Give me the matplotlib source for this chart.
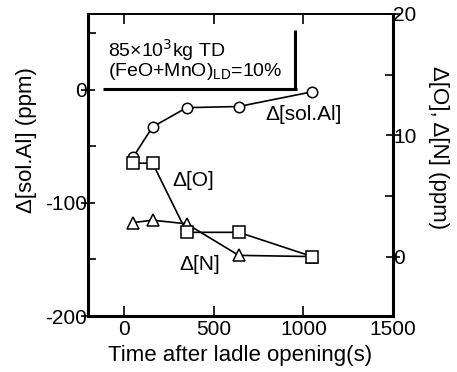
import matplotlib
matplotlib.use("Agg")
import matplotlib.pyplot as plt
from matplotlib.ticker import MultipleLocator

plt.rcParams['font.family'] = ['Liberation Sans', 'DejaVu Sans']
plt.rcParams['axes.unicode_minus'] = False

# Time after ladle opening (s)
time_s = [50, 160, 350, 640, 1050]
# Change in soluble Al (ppm), left axis
d_solal = [-60, -33, -16, -15, -2]
# Change in oxygen and nitrogen (ppm), right axis
d_o = [7.7, 7.7, 2.0, 2.0, 0.0]
d_n = [2.8, 3.0, 2.7, 0.1, 0.0]

fig = plt.figure(figsize=(4.57, 3.72), dpi=100)
ax = fig.add_axes([0.1926, 0.1505, 0.6674, 0.8119])
ax2 = ax.twinx()

ax.plot(time_s, d_solal, '-o', color='black', lw=1.2, ms=7.5,
        mfc='white', mec='black', mew=1.1, zorder=3)
ax2.plot(time_s, d_n, '-^', color='black', lw=1.2, ms=8,
         mfc='white', mec='black', mew=1.1, zorder=3)
ax2.plot(time_s, d_o, '-s', color='black', lw=1.2, ms=8,
         mfc='white', mec='black', mew=1.1, zorder=4)

ax.set_xlim(-200, 1500)
ax.set_ylim(-200, 66.7)
ax2.set_ylim(-4.9, 20)

ax.xaxis.set_major_locator(MultipleLocator(500))
ax.yaxis.set_major_locator(MultipleLocator(100))
ax.yaxis.set_minor_locator(MultipleLocator(50))
ax2.yaxis.set_major_locator(MultipleLocator(10))
ax2.yaxis.set_minor_locator(MultipleLocator(5))

fs = 15
ax.tick_params(axis='x', which='major', direction='in', top=True, length=7,
               width=1.2, labelsize=fs, pad=3)
ax.tick_params(axis='y', which='major', direction='inout', length=10,
               width=1.2, labelsize=fs, pad=-4)
ax.tick_params(axis='y', which='minor', direction='in', length=6, width=1.2)
ax2.tick_params(axis='y', which='major', direction='inout', length=10,
                width=1.2, labelsize=fs, pad=-5)
ax2.tick_params(axis='y', which='minor', direction='in', length=6, width=1.2)

for a in (ax, ax2):
    for s in a.spines.values():
        s.set_linewidth(1.2)
ax.spines['left'].set_linewidth(2.2)
ax.spines['bottom'].set_linewidth(2.2)
ax2.spines['right'].set_linewidth(2.2)

ax.set_xlabel('Time after ladle opening(s)', fontsize=16, labelpad=4)
fig.text(0.0569, 0.6237, 'Δ[sol.Al] (ppm)', fontsize=16, rotation=90,
         ha='center', va='center')
fig.text(0.9606, 0.602, 'Δ[O], Δ[N] (ppm)', fontsize=16, rotation=-90,
         ha='center', va='center')

# Series labels
ax.text(0.58, 0.666, 'Δ[sol.Al]', transform=ax.transAxes, fontsize=fs,
        ha='left', va='center')
ax.text(0.275, 0.45, 'Δ[O]', transform=ax.transAxes, fontsize=fs,
        ha='left', va='center')
ax.text(0.30, 0.17, 'Δ[N]', transform=ax.transAxes, fontsize=fs,
        ha='left', va='center')

# Condition box with shadow edges on the right and bottom
ax.text(0.065, 0.88, '85×10$^3$kg TD', transform=ax.transAxes,
        fontsize=14, ha='left', va='center')
ax.text(0.065, 0.81, '(FeO+MnO)$_{\\mathregular{LD}}$=10%',
        transform=ax.transAxes, fontsize=14, ha='left', va='center')
ax.plot([0.05, 0.685], [0.752, 0.752], transform=ax.transAxes,
        color='black', lw=2.2, solid_capstyle='butt', clip_on=False)
ax.plot([0.68, 0.68], [0.752, 0.947], transform=ax.transAxes,
        color='black', lw=2.2, solid_capstyle='butt', clip_on=False)

fig.savefig('out.png', dpi=100)
